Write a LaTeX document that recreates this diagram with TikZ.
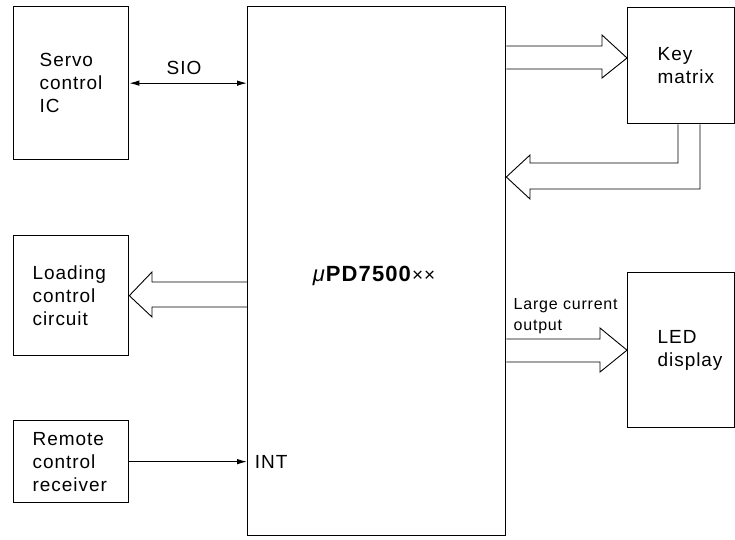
\documentclass[tikz,border=0pt]{standalone}
\usepackage{fontspec}
\setmainfont{Liberation Sans}[LetterSpace=5]
\usetikzlibrary{arrows.meta,calc}

\begin{document}
\begin{tikzpicture}[x=1pt,y=-1pt,line width=1.3pt,
    blk/.style={draw,rectangle,anchor=north west,align=left,inner ysep=0pt},
    txt/.style={font=\fontsize{19}{23}\selectfont},
    sig/.style={-{Latex[length=10pt,width=5.5pt]}},
    bus/.style={line width=0.9pt},
  ]
  \useasboundingbox (0,0) rectangle (735,539);
  % blocks
  \node[blk,txt,minimum width=115pt,minimum height=153pt,text width=63pt,inner xsep=26pt] (servo) at (13,6) {Servo\\control\\IC};
  \node[blk,txt,minimum width=115pt,minimum height=120pt,text width=77pt,inner xsep=19pt] (load) at (13,235) {Loading\\control\\circuit};
  \node[blk,txt,minimum width=115pt,minimum height=82pt,text width=77pt,inner xsep=19pt] (remote) at (13,420) {Remote\\control\\receiver};
  \node[blk,minimum width=258pt,minimum height=529pt] (main) at (247,6) {};
  \node[blk,txt,minimum width=107pt,minimum height=116pt,text width=47pt,inner xsep=30pt] (keym) at (627,7) {Key\\matrix};
  \node[blk,txt,minimum width=107pt,minimum height=155pt,text width=47pt,inner xsep=30pt] (led) at (627,272) {LED\\display};
  % labels
  \node[font=\fontsize{22}{22}\selectfont] (chip) at (374,276) {\textit{μ}\textbf{PD7500}{\fontsize{19}{19}\selectfont ××}};
  \node[txt] (sio) at (184,68) {SIO};
  \node[txt,anchor=west,xshift=4pt] (int) at (main.west |- remote.east) {INT};
  \node[font=\fontsize{16}{21}\selectfont,align=left,anchor=south west,inner sep=0pt] (lco) at (513,334) {Large current\\output};
  % single lines
  \draw[line width=1.1pt,{Latex[length=10pt,width=5.5pt]}-{Latex[length=10pt,width=5.5pt]}] (servo.east) -- (servo.east -| main.west);
  \draw[sig,line width=1.1pt] (remote.east) -- (remote.east -| main.west);
  % hollow bus arrows
  \draw[bus] (main.east |- 0,46) -- (602,46) -- (602,35) -- (keym.west |- 0,58) -- (602,78) -- (602,69) -- (main.east |- 0,69);
  \draw[bus] (700,0 |- keym.south) -- (700,189) -- (530,189) -- (530,199) -- (main.east |- 0,177) -- (530,155) -- (530,163) -- (678,163) -- (678,0 |- keym.south);
  \draw[bus] (main.west |- 0,282) -- (152,282) -- (152,272) -- (load.east) -- (152,317) -- (152,307) -- (main.west |- 0,307);
  \draw[bus] (main.east |- 0,339) -- (600,339) -- (600,328) -- (led.west) -- (600,372) -- (600,362) -- (main.east |- 0,362);
\end{tikzpicture}
\end{document}
